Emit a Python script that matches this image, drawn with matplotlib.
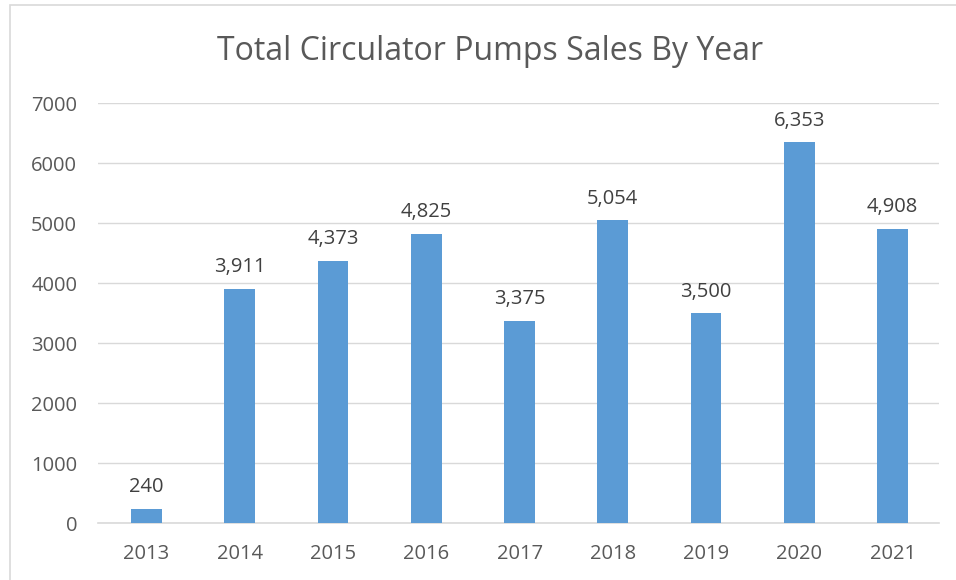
import matplotlib.pyplot as plt
from matplotlib.patches import Rectangle

years = ["2013", "2014", "2015", "2016", "2017", "2018", "2019", "2020", "2021"]
sales = [240, 3911, 4373, 4825, 3375, 5054, 3500, 6353, 4908]
y_ticks = [0, 1000, 2000, 3000, 4000, 5000, 6000, 7000]

plt.rcParams['font.family'] = ['Open Sans', 'DejaVu Sans']
text_gray = "#595959"

fig = plt.figure(figsize=(9.56, 5.8), dpi=100)
ax = fig.add_axes([0.1025, 0.098, 0.88, 0.724])

x = range(len(years))
ax.bar(x, sales, width=0.33, color="#5B9BD5", zorder=3)
for i, v in zip(x, sales):
    ax.text(i, v + 190, f"{v:,}", ha="center", va="bottom", fontsize=14.5, color="#404040")

ax.set_xlim(-0.52, 8.5)
ax.set_ylim(0, 7000)
ax.set_yticks(y_ticks)
ax.set_xticks(list(x))
ax.set_xticklabels(years)
ax.tick_params(axis="both", length=0, labelsize=14.5, labelcolor=text_gray)
ax.tick_params(axis="y", pad=15)
ax.tick_params(axis="x", pad=15)
ax.grid(axis="y", color="#D9D9D9", linewidth=1, zorder=0)
for s in ["top", "right", "left"]:
    ax.spines[s].set_visible(False)
ax.spines["bottom"].set_color("#D9D9D9")
ax.spines["bottom"].set_linewidth(1.2)

fig.text(0.5125, 0.912, "Total Circulator Pumps Sales By Year", ha="center", va="center",
         fontsize=23, color=text_gray)

# chart frame (only left and top edges visible in the crop)
fig.patches.append(Rectangle((10 / 956, -0.1), 1.1, 1.1 - 5 / 580, transform=fig.transFigure,
                             fill=False, edgecolor="#D9D9D9", linewidth=1.2))

fig.savefig("out.png", dpi=100)
